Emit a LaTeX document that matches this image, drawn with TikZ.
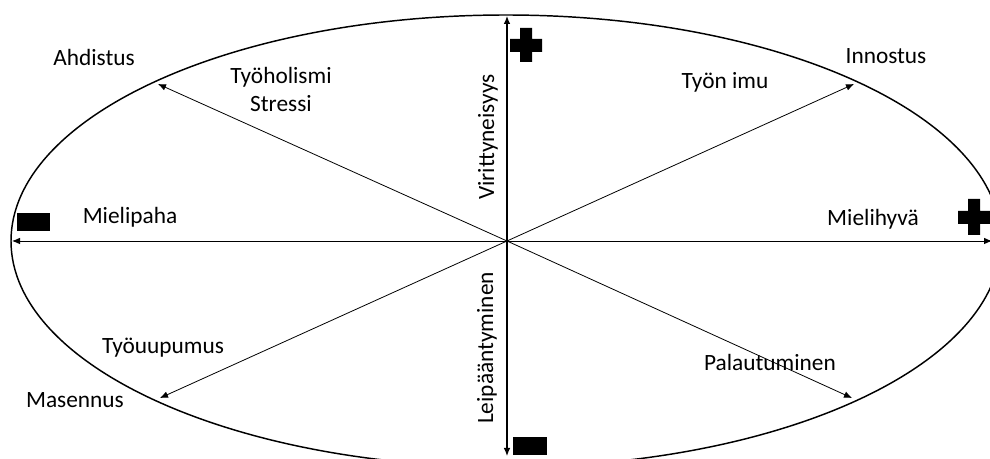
\documentclass[tikz,border=0pt]{standalone}
\usepackage{fontspec}
\setmainfont{Carlito}
\usetikzlibrary{arrows.meta}
\begin{document}
\begin{tikzpicture}[x=0.75pt,y=-0.75pt,
  lbl/.style={inner sep=0pt,font=\fontsize{17.5}{21}\selectfont},
  axis/.style={line width=0.9pt,{Latex[length=6pt,width=5pt]}-{Latex[length=6pt,width=5pt]}},
  diag/.style={line width=0.6pt,-{Latex[length=6pt,width=5pt]}},
  sign/.style={fill=black,draw=none}]
\useasboundingbox (0,0) rectangle (990,459);
\clip (0,0) rectangle (990,459);
\fill[white] (0,0) rectangle (990,459);
\coordinate (c) at (507,241);
\draw[line width=1.1pt] (506,241) ellipse [x radius=371.25pt, y radius=169.5pt];
\coordinate (top) at (507,16);
\coordinate (bot) at (507,456);
\coordinate (lft) at (12,241);
\coordinate (rgt) at (992,241);
\coordinate (nw) at (158,84);
\coordinate (ne) at (854,84);
\coordinate (sw) at (160,398);
\coordinate (se) at (852,398);
\draw[axis] (bot) -- (top);
\draw[axis,line width=0.7pt] (lft) -- (rgt);
\draw[diag] (c) -- (nw);
\draw[diag] (c) -- (ne);
\draw[diag] (c) -- (sw);
\draw[diag] (c) -- (se);
% plus / minus signs
\fill[sign] (520,28) rectangle (532,62) (510,39) rectangle (542,52);
\fill[sign] (968,199) rectangle (980,235) (958,211) rectangle (992,224);
\fill[sign] (17,213) rectangle (50,231);
\fill[sign] (513,437) rectangle (547,455);
% labels
\node[lbl] (ahd) at (94,57) {Ahdistus};
\node[lbl,align=center] (tyoh) at (281,89) {Työholismi\\Stressi};
\node[lbl,rotate=90] (vir) at (488,137) {Virittyneisyys};
\node[lbl] (imu) at (725,82) {Työn imu};
\node[lbl] (inn) at (886,56) {Innostus};
\node[lbl] (mpa) at (130,217) {Mielipaha};
\node[lbl] (mhy) at (873,219) {Mielihyvä};
\node[lbl] (tuu) at (163,348) {Työuupumus};
\node[lbl] (mas) at (75,400) {Masennus};
\node[lbl,rotate=90] (lei) at (487,348) {Leipääntyminen};
\node[lbl] (pal) at (770,362) {Palautuminen};
\end{tikzpicture}
\end{document}
